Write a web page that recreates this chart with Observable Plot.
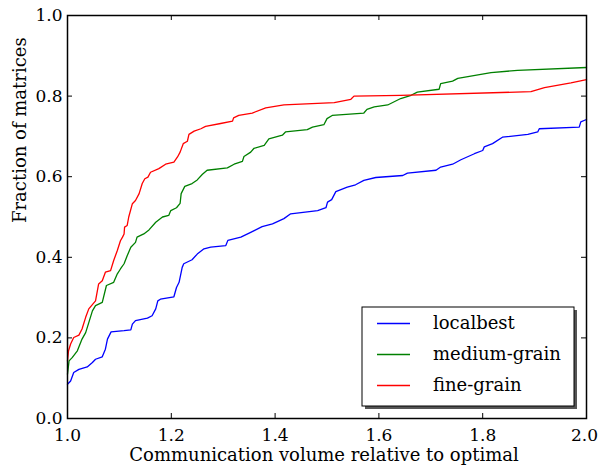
<!DOCTYPE html>
<html><head><meta charset="utf-8">
<script src="https://cdn.jsdelivr.net/npm/d3@7"></script>
<script src="https://cdn.jsdelivr.net/npm/@observablehq/plot@0.6"></script>
<style>body{margin:0;background:#fff} #chart{width:598px;height:473px}</style>
</head><body><div id="chart"></div>
<script>
const seriesNames = ["localbest", "medium-grain", "fine-grain"];
const seriesColors = ["#0000ff", "#008000", "#ff0000"];

const localbest = [[1.000,0.085],[1.006,0.093],[1.012,0.114],[1.022,0.122],[1.038,0.128],[1.048,0.139],[1.054,0.147],[1.067,0.153],[1.073,0.172],[1.077,0.197],[1.084,0.215],[1.109,0.218],[1.122,0.220],[1.125,0.234],[1.131,0.243],[1.154,0.249],[1.163,0.255],[1.170,0.272],[1.174,0.292],[1.179,0.296],[1.205,0.302],[1.210,0.325],[1.215,0.338],[1.221,0.375],[1.224,0.384],[1.240,0.394],[1.250,0.408],[1.263,0.421],[1.276,0.425],[1.305,0.429],[1.309,0.442],[1.334,0.450],[1.353,0.462],[1.375,0.476],[1.395,0.483],[1.417,0.496],[1.430,0.508],[1.482,0.516],[1.498,0.523],[1.501,0.537],[1.509,0.543],[1.517,0.563],[1.539,0.574],[1.555,0.580],[1.571,0.591],[1.594,0.598],[1.646,0.603],[1.655,0.609],[1.710,0.616],[1.719,0.624],[1.742,0.631],[1.758,0.642],[1.784,0.657],[1.800,0.665],[1.803,0.674],[1.819,0.682],[1.838,0.698],[1.887,0.705],[1.906,0.711],[1.909,0.719],[1.986,0.723],[1.989,0.736],[2.000,0.742]];

const mediumGrain = [[1.000,0.110],[1.003,0.143],[1.009,0.151],[1.019,0.168],[1.028,0.197],[1.035,0.213],[1.041,0.238],[1.048,0.267],[1.054,0.280],[1.067,0.288],[1.075,0.330],[1.089,0.338],[1.096,0.359],[1.102,0.371],[1.109,0.384],[1.115,0.404],[1.122,0.425],[1.131,0.437],[1.134,0.450],[1.147,0.458],[1.157,0.468],[1.170,0.487],[1.183,0.500],[1.195,0.504],[1.199,0.516],[1.210,0.523],[1.217,0.534],[1.219,0.558],[1.226,0.576],[1.240,0.583],[1.250,0.592],[1.260,0.606],[1.269,0.616],[1.308,0.622],[1.321,0.631],[1.337,0.638],[1.340,0.650],[1.353,0.661],[1.359,0.670],[1.379,0.678],[1.388,0.694],[1.414,0.703],[1.420,0.711],[1.462,0.717],[1.472,0.723],[1.494,0.729],[1.500,0.744],[1.510,0.752],[1.571,0.758],[1.577,0.767],[1.591,0.773],[1.617,0.778],[1.642,0.794],[1.662,0.802],[1.674,0.810],[1.716,0.817],[1.719,0.831],[1.742,0.837],[1.752,0.844],[1.816,0.858],[1.867,0.864],[2.000,0.871]];

const fineGrain = [[1.000,0.143],[1.002,0.168],[1.006,0.185],[1.012,0.201],[1.022,0.207],[1.028,0.222],[1.035,0.251],[1.041,0.272],[1.054,0.292],[1.060,0.334],[1.067,0.342],[1.073,0.363],[1.083,0.367],[1.089,0.392],[1.096,0.417],[1.102,0.441],[1.106,0.450],[1.109,0.458],[1.110,0.475],[1.115,0.479],[1.118,0.500],[1.125,0.533],[1.131,0.541],[1.138,0.558],[1.144,0.583],[1.149,0.595],[1.155,0.599],[1.160,0.611],[1.176,0.620],[1.189,0.631],[1.205,0.636],[1.212,0.649],[1.217,0.661],[1.223,0.682],[1.231,0.688],[1.234,0.705],[1.244,0.713],[1.257,0.719],[1.266,0.725],[1.295,0.732],[1.318,0.738],[1.320,0.746],[1.330,0.752],[1.356,0.758],[1.382,0.771],[1.417,0.778],[1.514,0.784],[1.546,0.792],[1.552,0.800],[1.642,0.802],[1.893,0.811],[1.919,0.821],[1.970,0.833],[2.000,0.841]];

const xTicks = [1.0, 1.2, 1.4, 1.6, 1.8, 2.0];
const yTicks = [0.0, 0.2, 0.4, 0.6, 0.8, 1.0];
const xLabel = "Communication volume relative to optimal";
const yLabel = "Fraction of matrices";

const rows = [];
[[seriesNames[0], localbest], [seriesNames[1], mediumGrain], [seriesNames[2], fineGrain]]
  .forEach(([name, pts]) => pts.forEach(([x, y]) => rows.push({series: name, x, y})));

const W = 598, H = 473, mL = 67, mR = 12, mT = 15, mB = 55;
const pw = W - mL - mR, ph = H - mT - mB;
const font = "DejaVu Serif";
const tl = 5;
const fmt = d3.format(".1f");

const plot = Plot.plot({
  width: W, height: H,
  marginLeft: mL, marginRight: mR, marginTop: mT, marginBottom: mB,
  style: {fontFamily: font, fontSize: "17px", color: "black", background: "white"},
  x: {domain: [1, 2], label: null},
  y: {domain: [0, 1], label: null},
  color: {domain: seriesNames, range: seriesColors},
  marks: [
    Plot.axisX(xTicks.slice(0, -1), {tickSize: 0, tickPadding: 10, tickFormat: fmt, label: null, fontSize: 17}),
    Plot.axisX(xTicks.slice(-1), {tickSize: 0, tickPadding: 10, tickFormat: fmt, label: null, fontSize: 17, dx: -2}),
    Plot.axisY(yTicks, {tickSize: 0, tickPadding: 5, tickFormat: fmt, label: null, fontSize: 17}),
    Plot.tickX(xTicks.slice(1, -1), {x: d => d, insetTop: ph - tl, stroke: "black", strokeWidth: 1}),
    Plot.tickX(xTicks.slice(1, -1), {x: d => d, insetBottom: ph - tl, stroke: "black", strokeWidth: 1}),
    Plot.tickY(yTicks.slice(1, -1), {y: d => d, insetRight: pw - tl, stroke: "black", strokeWidth: 1}),
    Plot.tickY(yTicks.slice(1, -1), {y: d => d, insetLeft: pw - tl, stroke: "black", strokeWidth: 1}),
    Plot.line(rows, {x: "x", y: "y", z: "series", stroke: "series", strokeWidth: 1.3}),
    Plot.frame({stroke: "black", strokeWidth: 1.5}),
    Plot.text([xLabel], {frameAnchor: "bottom", dy: 42, dx: -3, fontSize: 18, fill: "black"}),
    Plot.text([yLabel], {frameAnchor: "left", dx: -47, dy: 6, rotate: -90, fontSize: 18, fill: "black"})
  ]
});

document.getElementById("chart").appendChild(plot);

// legend
const svg = d3.select(plot);
const lg = svg.append("g").style("font-family", font).style("font-size", "18px");
const bx = 362, by = 307, bw = 212, bh = 99;
lg.append("rect").attr("x", bx + 3).attr("y", by + 3).attr("width", bw).attr("height", bh).attr("fill", "#555");
lg.append("rect").attr("x", bx).attr("y", by).attr("width", bw).attr("height", bh).attr("fill", "white").attr("stroke", "black").attr("stroke-width", 1);
seriesNames.forEach((name, i) => {
  const yy = by + 16.5 + i * 31;
  lg.append("line").attr("x1", bx + 15).attr("x2", bx + 48).attr("y1", yy).attr("y2", yy)
    .attr("stroke", seriesColors[i]).attr("stroke-width", 1.3);
  lg.append("text").attr("x", bx + 71).attr("y", yy).attr("dy", "0.32em")
    .style("text-anchor", "start").attr("fill", "black").text(name);
});
</script>
</body></html>
